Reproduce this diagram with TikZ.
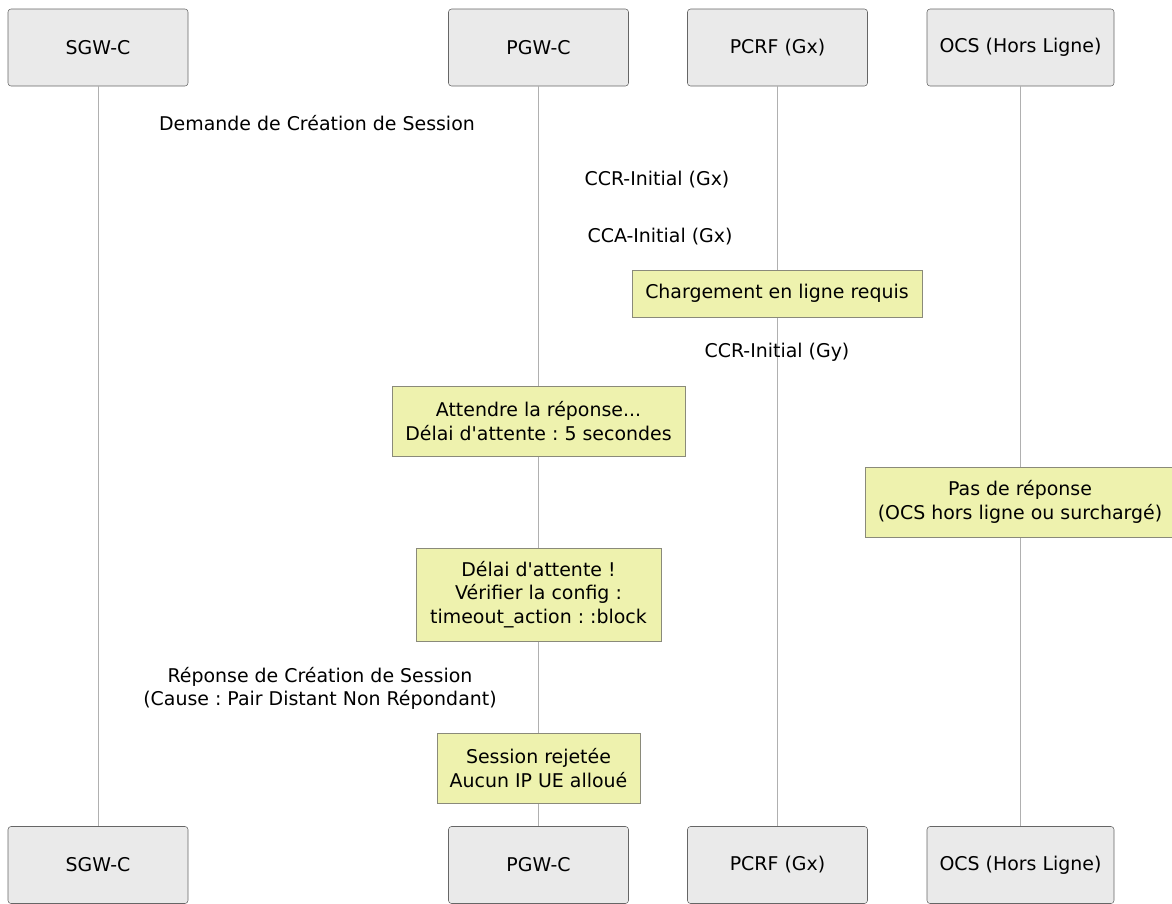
\documentclass[tikz,border=0pt]{standalone}
\usepackage{fontspec}
\setmainfont[Ligatures=TeXReset]{DejaVu Sans}
\usetikzlibrary{positioning}
\definecolor{actfill}{HTML}{EAEAEA}
\definecolor{actline}{HTML}{666666}
\definecolor{notefill}{HTML}{EEF2AE}
\definecolor{noteline}{HTML}{8A8A7A}
\definecolor{lifecol}{HTML}{B0B0B0}
\frenchspacing

\begin{document}
\begin{tikzpicture}[x=0.75pt, y=-0.75pt,
    every node/.style={font=\fontsize{14.2}{17.6}\selectfont, align=center, inner sep=0pt},
    actor/.style={rectangle, draw=actline, fill=actfill, rounded corners=2.25pt,
                  minimum width=135pt, minimum height=57.75pt},
    note/.style={rectangle, draw=noteline, fill=notefill},
    msg/.style={fill=none},
    life/.style={draw=lifecol, line width=0.75pt},
  ]
  \useasboundingbox (0,0) rectangle (1172,904);

  % participants
  \node[actor] (sgw) at (98, 47.5) {SGW-C};
  \node[actor] (pgw) at (538.5, 47.5) {PGW-C};
  \node[actor] (pcrf) at (777.5, 47.5) {PCRF (Gx)};
  \node[actor, minimum width=140.25pt] (ocs) at (1020.5, 47.5) {OCS (Hors Ligne)};
  \node[actor] (sgwb) at (98, 865) {SGW-C};
  \node[actor] (pgwb) at (538.5, 865) {PGW-C};
  \node[actor] (pcrfb) at (777.5, 865) {PCRF (Gx)};
  \node[actor, minimum width=140.25pt] (ocsb) at (1020.5, 865) {OCS (Hors Ligne)};

  % lifelines
  \draw[life] (sgw) -- (sgwb);
  \draw[life] (pgw) -- (pgwb);
  \draw[life] (pcrf) -- (pcrfb);
  \draw[life] (ocs) -- (ocsb);

  % messages
  \node[msg] (m1) at (317, 123) {Demande de Création de Session};
  \node[msg] (m2) at (657, 180) {CCR-Initial (Gx)};
  \node[msg] (m3) at (660, 237) {CCA-Initial (Gx)};
  \node[msg] (m4) at (777, 352) {CCR-Initial (Gy)};
  \node[msg] (m5) at (320, 688.5) {Réponse de Création de Session\\(Cause : Pair Distant Non Répondant)};

  % notes
  \node[note, minimum width=217.5pt, minimum height=35.25pt] (n1) at (777, 293.5)
    {Chargement en ligne requis};
  \node[note, minimum width=219.75pt, minimum height=52.5pt] (n2) at (538.5, 421)
    {Attendre la réponse...\\Délai d'attente : 5 secondes};
  \node[note, minimum width=232.5pt, minimum height=52.5pt] (n3) at (1020, 502)
    {Pas de réponse\\(OCS hors ligne ou surchargé)};
  \node[note, minimum width=183.75pt, minimum height=69.75pt] (n4) at (538.5, 594.5)
    {Délai d'attente !\\Vérifier la config :\\timeout\_action : :block};
  \node[note, minimum width=152.25pt, minimum height=52.5pt] (n5) at (538.5, 768)
    {Session rejetée\\Aucun IP UE alloué};
\end{tikzpicture}
\end{document}
